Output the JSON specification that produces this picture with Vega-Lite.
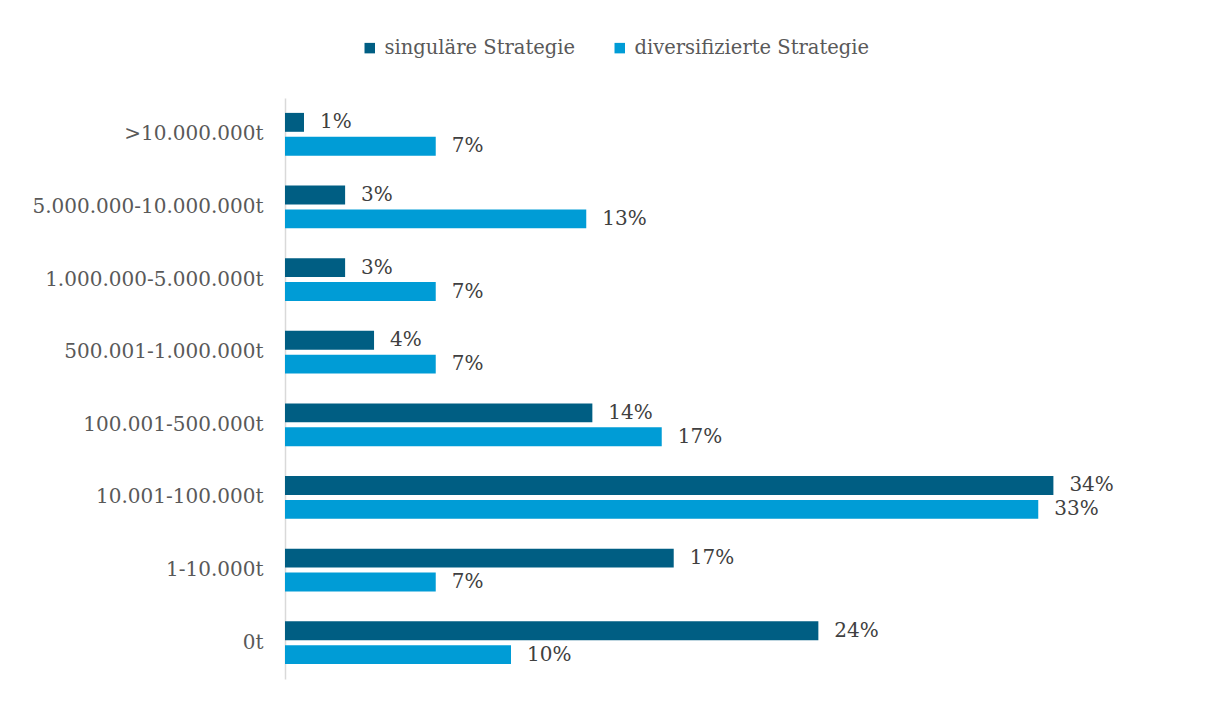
{
  "$schema": "https://vega.github.io/schema/vega-lite/v6.json",
  "width": 904,
  "height": 581,
  "autosize": "none",
  "padding": {"left": 285, "top": 98, "right": 25, "bottom": 23},
  "background": "white",
  "config": {
    "view": {"stroke": null},
    "font": "DejaVu Serif"
  },
  "data": {
    "values": [
      {"cat": ">10.000.000t", "series": "singuläre Strategie", "value": 0.0084},
      {"cat": ">10.000.000t", "series": "diversifizierte Strategie", "value": 0.0667},
      {"cat": "5.000.000-10.000.000t", "series": "singuläre Strategie", "value": 0.0266},
      {"cat": "5.000.000-10.000.000t", "series": "diversifizierte Strategie", "value": 0.1333},
      {"cat": "1.000.000-5.000.000t", "series": "singuläre Strategie", "value": 0.0266},
      {"cat": "1.000.000-5.000.000t", "series": "diversifizierte Strategie", "value": 0.0667},
      {"cat": "500.001-1.000.000t", "series": "singuläre Strategie", "value": 0.0394},
      {"cat": "500.001-1.000.000t", "series": "diversifizierte Strategie", "value": 0.0667},
      {"cat": "100.001-500.000t", "series": "singuläre Strategie", "value": 0.136},
      {"cat": "100.001-500.000t", "series": "diversifizierte Strategie", "value": 0.1667},
      {"cat": "10.001-100.000t", "series": "singuläre Strategie", "value": 0.34},
      {"cat": "10.001-100.000t", "series": "diversifizierte Strategie", "value": 0.3333},
      {"cat": "1-10.000t", "series": "singuläre Strategie", "value": 0.172},
      {"cat": "1-10.000t", "series": "diversifizierte Strategie", "value": 0.0667},
      {"cat": "0t", "series": "singuläre Strategie", "value": 0.236},
      {"cat": "0t", "series": "diversifizierte Strategie", "value": 0.10}
    ]
  },
  "encoding": {
    "y": {
      "field": "cat",
      "type": "nominal",
      "sort": [">10.000.000t", "5.000.000-10.000.000t", "1.000.000-5.000.000t", "500.001-1.000.000t", "100.001-500.000t", "10.001-100.000t", "1-10.000t", "0t"],
      "scale": {"paddingInner": 0.41, "paddingOuter": 0.205},
      "axis": {
        "title": null,
        "ticks": false,
        "domainColor": "#d9d9d9",
        "domainWidth": 1.5,
        "labelPadding": 22,
        "labelFontSize": 20,
        "labelLimit": 0,
        "labelColor": "#595959",
        "labelFont": "DejaVu Serif"
      }
    },
    "yOffset": {
      "field": "series",
      "type": "nominal",
      "sort": ["singuläre Strategie", "diversifizierte Strategie"],
      "scale": {"paddingInner": 0.21, "paddingOuter": 0}
    },
    "x": {
      "field": "value",
      "type": "quantitative",
      "scale": {"domain": [0, 0.4], "nice": false},
      "axis": null
    }
  },
  "layer": [
    {
      "mark": {"type": "bar"},
      "encoding": {
        "color": {
          "field": "series",
          "type": "nominal",
          "sort": ["singuläre Strategie", "diversifizierte Strategie"],
          "scale": {
            "domain": ["singuläre Strategie", "diversifizierte Strategie"],
            "range": ["#005E83", "#009CD6"]
          },
          "legend": {
            "title": null,
            "orient": "none",
            "direction": "horizontal",
            "legendX": 75,
            "legendY": -60,
            "symbolType": "square",
            "symbolSize": 110,
            "symbolStrokeWidth": 0,
            "labelFontSize": 19.5,
            "labelLimit": 0,
            "labelColor": "#595959",
            "labelFont": "DejaVu Serif",
            "labelOffset": 5,
            "columnPadding": 34
          }
        }
      }
    },
    {
      "mark": {"type": "text", "align": "left", "baseline": "middle", "dx": 16, "fontSize": 20, "color": "#404040", "font": "DejaVu Serif"},
      "encoding": {
        "text": {"field": "value", "type": "quantitative", "format": ".0%"}
      }
    }
  ]
}
